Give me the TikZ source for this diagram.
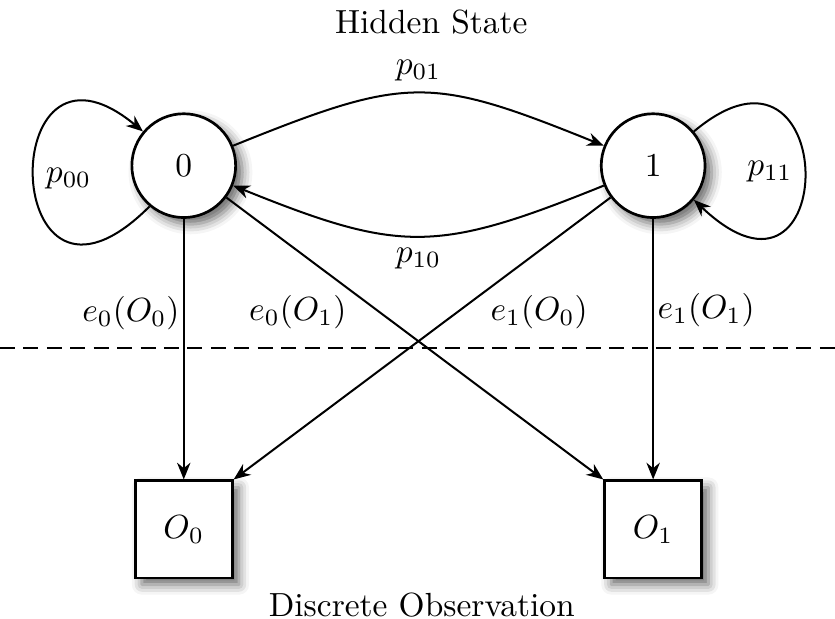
\documentclass[tikz,border=0pt]{standalone}
\usetikzlibrary{arrows.meta}
\usetikzlibrary{shadows.blur}

\begin{document}
\begin{tikzpicture}[>={Stealth[length=5pt, width=4pt]}, semithick,
    shade/.style={blur shadow={shadow xshift=2pt, shadow yshift=-2pt, shadow blur radius=3pt, shadow opacity=60}},
    state/.style={circle, draw, thick, fill=white, minimum size=1.09cm, inner sep=0pt, shade},
    obs/.style={rectangle, draw, thick, fill=white, minimum size=1.02cm, inner sep=0pt, shade},
    lbl/.style={inner sep=1pt}]
    \useasboundingbox (0, 0) rectangle (8.77, 6.50);
    % states and observations
    \node[state] (s0) at (1.93, 4.76) {0};
    \node[state] (s1) at (6.86, 4.76) {1};
    \node[obs] (o0) at (1.93, 0.94) {$O_0$};
    \node[obs] (o1) at (6.86, 0.94) {$O_1$};
    \node (hidden) at (4.53, 6.27) {Hidden State};
    \node (discrete) at (4.43, 0.15) {Discrete Observation};
    \coordinate (dl) at (0, 2.84);
    \coordinate (dr) at (8.77, 2.84);
    \draw[dash pattern=on 4.5pt off 2.5pt] (dl) -- (dr);
    % transitions
    \draw[->] (s0) to[out=22, in=158, looseness=1.3] node[above] {$p_{01}$} (s1);
    \draw[->] (s1) to[out=202, in=-22, looseness=1.25] node[below] {$p_{10}$} (s0);
    \draw[->] (s0.230) .. controls +(-1.575, -1.575) and +(-1.575, 1.3) .. node[right] {$p_{00}$} (s0.140);
    \draw[->] (s1.40) .. controls +(1.55, 1.3) and +(1.55, -1.47) .. node[left] {$p_{11}$} (s1.-40);
    % emissions
    \draw[->] (s0) -- node[lbl, pos=0.36, left] {$e_0(O_0)$} (o0);
    \draw[->] (s0) -- node[lbl, pos=0.33, below left] {$e_0(O_1)$} (o1.north west);
    \draw[->] (s1) -- node[lbl, pos=0.33, below right] {$e_1(O_0)$} (o0.north east);
    \draw[->] (s1) -- node[lbl, pos=0.35, right] {$e_1(O_1)$} (o1);
\end{tikzpicture}
\end{document}
